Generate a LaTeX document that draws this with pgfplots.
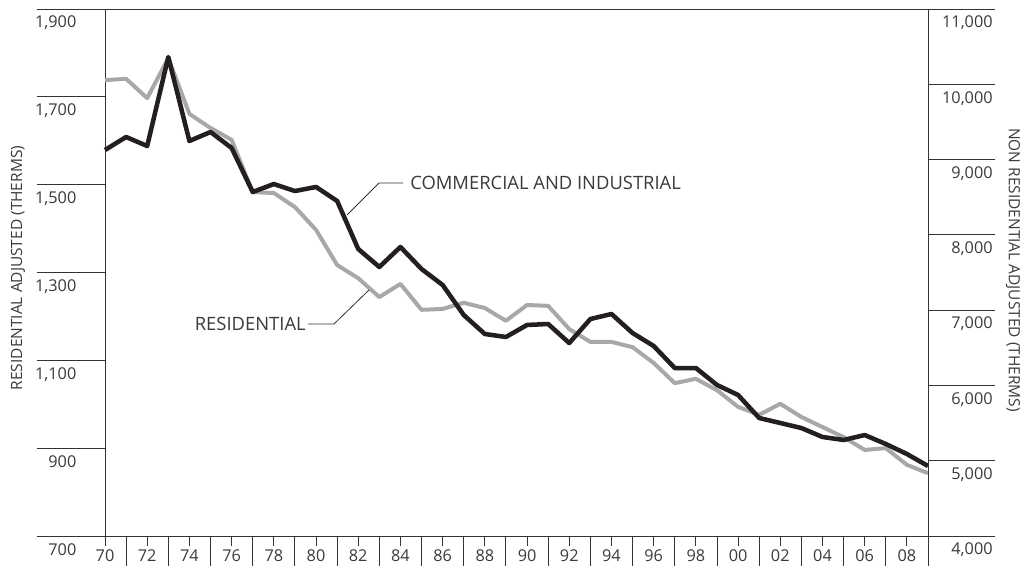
\documentclass[border=0pt]{standalone}
\usepackage{fontspec}
\setmainfont{Open Sans}
\usepackage{pgfplots}
\usepackage{pgfplotstable}
\pgfplotsset{compat=1.18}
\definecolor{resgray}{HTML}{A8A8A8}
\definecolor{comblack}{HTML}{231F20}
\definecolor{txt}{HTML}{3A3A3A}
\definecolor{axl}{HTML}{333333}

\pgfplotstableread{
year res
1970 1738
1971 1741
1972 1697
1973 1788
1974 1661
1975 1629
1976 1602
1977 1483
1978 1481
1979 1449
1980 1397
1981 1317
1982 1287
1983 1244
1984 1274
1985 1215
1986 1217
1987 1231
1988 1219
1989 1190
1990 1226
1991 1224
1992 1171
1993 1142
1994 1142
1995 1130
1996 1094
1997 1048
1998 1058
1999 1032
2000 994
2001 976
2002 1001
2003 971
2004 948
2005 925
2006 896
2007 900
2008 862
2009 843
}\restable

\pgfplotstableread{
year com
1970 9127
1971 9300
1972 9180
1973 10362
1974 9247
1975 9366
1976 9154
1977 8569
1978 8675
1979 8582
1980 8636
1981 8450
1982 7812
1983 7573
1984 7839
1985 7546
1986 7334
1987 6935
1988 6683
1989 6643
1990 6803
1991 6816
1992 6563
1993 6882
1994 6949
1995 6696
1996 6524
1997 6231
1998 6231
1999 6006
2000 5873
2001 5567
2002 5501
2003 5434
2004 5315
2005 5275
2006 5341
2007 5222
2008 5089
2009 4930
}\comtable

\begin{document}
\begin{tikzpicture}[font=\fontsize{12.2}{14}\selectfont]
\useasboundingbox (-78.75pt,-22.5pt) rectangle (686.25pt,402pt);
\begin{axis}[
  at={(0pt,0pt)}, anchor=south west,
  scale only axis, width=617.25pt, height=395.25pt,
  xmin=1970, xmax=2009, ymin=700, ymax=1900,
  clip=false,
  axis line style={axl, line width=0.7pt},
  xtick={1970,1972,...,2008},
  xticklabels={70,72,74,76,78,80,82,84,86,88,90,92,94,96,98,00,02,04,06,08},
  minor xtick={1971,1973,...,2009},
  xtick pos=left,
  tick align=outside, major tick length=7.5pt, minor tick length=22.5pt,
  tick style={axl, line width=0.7pt},
  xticklabel style={text=txt, yshift=0.5pt},
  ytick={700,900,1100,1300,1500,1700,1900},
  yticklabels={700,900,{1,100},{1,300},{1,500},{1,700},{1,900}},
  ytick pos=left,
  ytick style={draw=none},
  yticklabel style={anchor=east, text=txt, xshift=-10.5pt, yshift=-10.5pt},
]
\addplot[resgray, line width=3pt, line join=round] table[x=year, y=res] {\restable};
\end{axis}
\begin{axis}[
  at={(0pt,0pt)}, anchor=south west,
  scale only axis, width=617.25pt, height=395.25pt,
  xmin=1970, xmax=2009, ymin=4000, ymax=11000,
  clip=false,
  axis x line=none,
  axis y line*=right,
  axis line style={axl, line width=0.7pt},
  major tick length=0pt,
  scaled y ticks=false,
  ytick={4000,5000,6000,7000,8000,9000,10000,11000},
  yticklabels={{4,000},{5,000},{6,000},{7,000},{8,000},{9,000},{10,000},{11,000}},
  yticklabel style={anchor=east, text=txt, xshift=52pt, yshift=-10.5pt},
]
\addplot[comblack, line width=3.4pt, line join=round] table[x=year, y=com] {\comtable};
\end{axis}
% tick lines outside the plot area
\foreach \yy in {0,65.875,131.75,197.625,263.5,329.375,395.25}{
  \draw[axl, line width=0.7pt] (0pt,\yy pt) -- (-51pt,\yy pt);
}
\foreach \yy in {0,56.464,112.929,169.393,225.857,282.321,338.786,395.25}{
  \draw[axl, line width=0.7pt] (617.25pt,\yy pt) -- (667.5pt,\yy pt);
}
% annotations
\draw[axl, line width=0.6pt] (181.5pt,240.75pt) -- (205.5pt,264.75pt) -- (223.5pt,264.75pt);
\node[anchor=west, text=txt, inner sep=0pt, font=\fontsize{13.8}{16}\selectfont] at (228.75pt,264.75pt) {COMMERCIAL AND INDUSTRIAL};
\draw[axl, line width=0.6pt] (198pt,184.5pt) -- (171.75pt,159pt) -- (152.25pt,159pt);
\node[anchor=east, text=txt, inner sep=0pt, font=\fontsize{13.8}{16}\selectfont] at (150.75pt,159pt) {RESIDENTIAL};
\node[rotate=90, text=txt, font=\fontsize{11.6}{13}\selectfont] at (-65.25pt,201pt) {RESIDENTIAL ADJUSTED (THERMS)};
\node[rotate=-90, text=txt, font=\fontsize{11.6}{13}\selectfont] at (681pt,199.5pt) {NON RESIDENTIAL ADJUSTED (THERMS)};
\end{tikzpicture}
\end{document}
